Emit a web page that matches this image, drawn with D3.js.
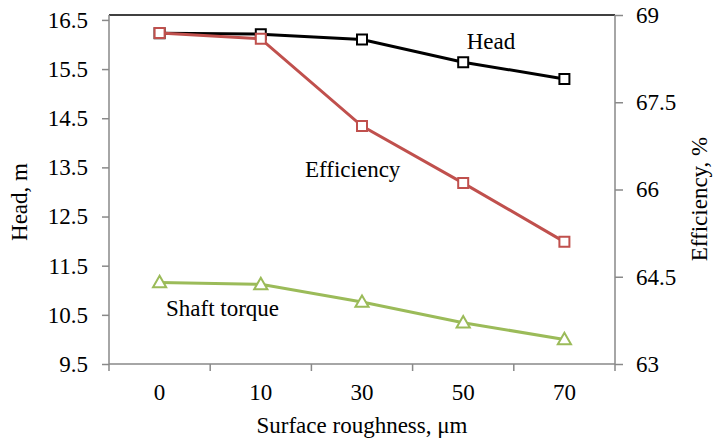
<!DOCTYPE html>
<html>
<head>
<meta charset="utf-8">
<script src="https://cdn.jsdelivr.net/npm/d3@7"></script>
<style>
  body { margin: 0; background: #fff; }
  .axis path, .axis line { stroke: #898989; stroke-width: 1.5; }
</style>
</head>
<body>
<div id="chart"></div>
<script>
// Dados
const roughness = ['0', '10', '30', '50', '70'];
const headValues = [16.23, 16.21, 16.10, 15.64, 15.30];
const efficiencyValues = [68.69, 68.59, 67.09, 66.11, 65.10];
const torqueValues = [11.16, 11.12, 10.76, 10.34, 10.00];
const leftTicks = [9.5, 10.5, 11.5, 12.5, 13.5, 14.5, 15.5, 16.5];
const rightTicks = [63, 64.5, 66, 67.5, 69];

const FONT = 'Liberation Serif';
const FONT_SIZE = 23;
const width = 713, height = 441;
const margin = { top: 15, right: 98, bottom: 77, left: 109 };
const w = width - margin.left - margin.right;
const h = height - margin.top - margin.bottom;

const svg = d3.select('#chart').append('svg')
  .attr('width', width)
  .attr('height', height);

const chart = svg.append('g')
  .attr('transform', `translate(${margin.left},${margin.top})`);

// Escalas
const x = d3.scaleBand().domain(roughness).range([0, w]).padding(0);
const yLeft = d3.scaleLinear().domain([9.5, 16.6]).range([h, 0]);
const yRight = d3.scaleLinear().domain([63, 69]).range([h, 0]);
const xEdge = d3.scaleLinear().domain([0, roughness.length]).range([0, w]);

// Borda superior
chart.append('line')
  .attr('x1', 0).attr('x2', w)
  .attr('y1', 0).attr('y2', 0)
  .attr('stroke', '#000')
  .attr('stroke-width', 1.5);

// Aplica o estilo de texto aos eixos
function styleAxis(g) {
  g.selectAll('text')
    .attr('font-family', FONT)
    .attr('font-size', FONT_SIZE)
    .attr('fill', '#000');
}

// Eixo esquerdo
chart.append('g')
  .attr('class', 'axis')
  .call(d3.axisLeft(yLeft).tickValues(leftTicks).tickFormat(d3.format('.1f')).tickSize(7).tickSizeOuter(0).tickPadding(14))
  .call(g => g.select('.domain').attr('d', `M0,${h}V0`))
  .call(styleAxis);

// Eixo direito
chart.append('g')
  .attr('class', 'axis')
  .attr('transform', `translate(${w},0)`)
  .call(d3.axisRight(yRight).tickValues(rightTicks).tickFormat(d => d).tickSize(8).tickSizeOuter(0).tickPadding(13))
  .call(g => g.select('.domain').attr('d', `M0,${h}V0`))
  .call(styleAxis);

// Eixo x: rótulos no centro, marcas entre categorias
const xAxisG = chart.append('g')
  .attr('class', 'axis')
  .attr('transform', `translate(0,${h})`)
  .call(d3.axisBottom(x).tickSize(0).tickPadding(20))
  .call(styleAxis);
xAxisG.select('.domain').attr('d', `M0,0H${w}`);
xAxisG.selectAll('.edge')
  .data(d3.range(roughness.length + 1))
  .enter().append('line')
  .attr('class', 'edge')
  .attr('x1', d => xEdge(d)).attr('x2', d => xEdge(d))
  .attr('y1', 0).attr('y2', 7);

// Títulos dos eixos
function addText(sel) {
  return sel.append('text')
    .attr('font-family', FONT)
    .attr('font-size', FONT_SIZE)
    .attr('fill', '#000');
}

addText(svg)
  .attr('transform', 'translate(27,202) rotate(-90)')
  .attr('text-anchor', 'middle')
  .text('Head, m');

addText(svg)
  .attr('transform', 'translate(707,199) rotate(-90)')
  .attr('text-anchor', 'middle')
  .text('Efficiency, %');

addText(svg)
  .attr('x', margin.left + w / 2)
  .attr('y', 433)
  .attr('text-anchor', 'middle')
  .text('Surface roughness, μm');

// Séries
const series = [
  { name: 'Head', values: headValues, scale: yLeft, color: '#000000', marker: 'square' },
  { name: 'Efficiency', values: efficiencyValues, scale: yRight, color: '#C0504D', marker: 'square' },
  { name: 'Shaft torque', values: torqueValues, scale: yLeft, color: '#9BBB59', marker: 'triangle' }
];

const cx = (d, i) => x(roughness[i]) + x.bandwidth() / 2;

series.forEach(s => {
  const line = d3.line()
    .x((d, i) => cx(d, i))
    .y(d => s.scale(d));

  chart.append('path')
    .attr('d', line(s.values))
    .attr('fill', 'none')
    .attr('stroke', s.color)
    .attr('stroke-width', 3);

  const sym = s.marker === 'square'
    ? d3.symbol().type(d3.symbolSquare).size(100)
    : d3.symbol().type(d3.symbolTriangle).size(75);

  chart.selectAll(null)
    .data(s.values)
    .enter().append('path')
    .attr('d', sym)
    .attr('transform', (d, i) => `translate(${cx(d, i)},${s.scale(d) + (s.marker === 'triangle' ? 1 : 0)})`)
    .attr('fill', '#fff')
    .attr('stroke', s.color)
    .attr('stroke-width', 2);
});

// Rótulos das séries
const labels = [
  { text: 'Head', x: 491, y: 49, anchor: 'middle' },
  { text: 'Efficiency', x: 305, y: 177, anchor: 'start' },
  { text: 'Shaft torque', x: 166, y: 316, anchor: 'start' }
];
labels.forEach(l => {
  addText(svg)
    .attr('x', l.x)
    .attr('y', l.y)
    .attr('text-anchor', l.anchor)
    .text(l.text);
});
</script>
</body>
</html>
